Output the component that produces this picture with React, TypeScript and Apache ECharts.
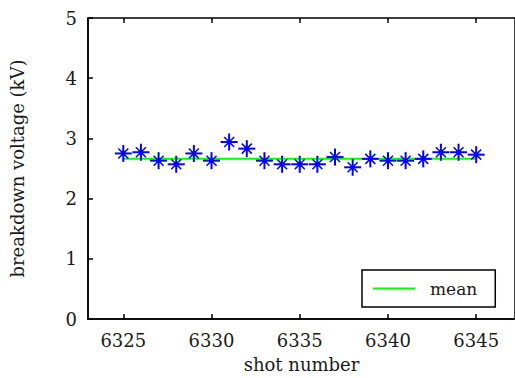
import React, { useEffect, useRef } from "react";
import * as echarts from "echarts";

const shotNumbers = [6325, 6326, 6327, 6328, 6329, 6330, 6331, 6332, 6333, 6334, 6335, 6336, 6337, 6338, 6339, 6340, 6341, 6342, 6343, 6344, 6345];
const voltages = [2.75, 2.77, 2.63, 2.57, 2.75, 2.63, 2.94, 2.83, 2.63, 2.57, 2.57, 2.57, 2.69, 2.52, 2.66, 2.63, 2.63, 2.66, 2.77, 2.77, 2.73];
const meanValue = 2.66;
const meanRange = [6325, 6345];
const xTicks = [6325, 6330, 6335, 6340, 6345];

const FONT = "DejaVu Serif";
const TEXT = "#1a1a1a";

export default function App() {
  const ref = useRef<HTMLDivElement>(null);
  useEffect(() => {
    if (!ref.current) return;
    const chart = echarts.init(ref.current, null, { renderer: "svg" });
    const blue = "#0000ff";
    chart.setOption({
      animation: false,
      backgroundColor: "#ffffff",
      grid: {
        left: 86,
        top: 18,
        width: 433,
        bottom: 56,
        show: true,
        borderColor: "#000",
        borderWidth: 1.5,
      },
      legend: {
        data: [{ name: "mean", icon: "rect" }],
        left: 362,
        top: 270,
        width: 140,
        orient: "horizontal",
        padding: [10, 18, 10, 11],
        backgroundColor: "#fff",
        borderColor: "#000",
        borderWidth: 1.5,
        borderRadius: 0,
        itemWidth: 42,
        itemHeight: 2,
        textStyle: { fontFamily: FONT, fontSize: 17, color: TEXT, padding: [0, 0, 0, 10] },
      },
      xAxis: [
        {
          type: "value",
          min: 6323,
          max: 6347.2,
          position: "bottom",
          splitLine: { show: false },
          axisLine: { show: true, lineStyle: { color: "#000", width: 1.5 } },
          axisTick: { inside: true, length: 5, customValues: xTicks, lineStyle: { color: "#000", width: 1.5 } },
          axisLabel: {
            customValues: xTicks,
            formatter: (v: number) => String(Math.round(v)),
            fontFamily: FONT,
            fontSize: 18,
            color: TEXT,
            margin: 12,
          },
          name: "shot number",
          nameLocation: "middle",
          nameGap: 36,
          nameTextStyle: { fontFamily: FONT, fontSize: 18, color: TEXT },
        },
        {
          type: "value",
          min: 6323,
          max: 6347.2,
          position: "top",
          splitLine: { show: false },
          axisLine: { show: false },
          axisTick: { inside: true, length: 5, customValues: xTicks, lineStyle: { color: "#000", width: 1.5 } },
          axisLabel: { show: false },
        },
      ],
      yAxis: {
        type: "value",
        min: 0,
        max: 5,
        interval: 1,
        splitLine: { show: false },
        axisLine: { show: true, lineStyle: { color: "#000", width: 1.5 } },
        axisTick: { show: true, inside: true, length: 5, lineStyle: { color: "#000", width: 1.5 } },
        axisLabel: { fontFamily: FONT, fontSize: 18, color: TEXT, margin: 11 },
        name: "breakdown voltage (kV)",
        nameLocation: "middle",
        nameRotate: 90,
        nameGap: 62,
        nameTextStyle: { fontFamily: FONT, fontSize: 18, color: TEXT },
      },
      series: [
        {
          name: "mean",
          type: "line",
          symbol: "none",
          data: meanRange.map((x) => [x, meanValue]),
          lineStyle: { color: "#00ff00", width: 2 },
          itemStyle: { color: "#00ff00" },
          z: 1,
        },
        {
          name: "voltage",
          type: "custom",
          data: shotNumbers.map((x, i) => [x, voltages[i]]),
          z: 3,
          renderItem: (params: any, api: any) => {
            const [cx, cy] = api.coord([api.value(0), api.value(1)]);
            const st = { stroke: blue, lineWidth: 2 };
            const sd = { stroke: blue, lineWidth: 1.5 };
            return {
              type: "group",
              children: [
                { type: "line", shape: { x1: cx - 8.5, y1: cy, x2: cx + 8.5, y2: cy }, style: st },
                { type: "line", shape: { x1: cx, y1: cy - 8.5, x2: cx, y2: cy + 8.5 }, style: st },
                { type: "line", shape: { x1: cx - 5, y1: cy - 5, x2: cx + 5, y2: cy + 5 }, style: sd },
                { type: "line", shape: { x1: cx - 5, y1: cy + 5, x2: cx + 5, y2: cy - 5 }, style: sd },
                { type: "circle", shape: { cx, cy, r: 2.5 }, style: { fill: blue } },
              ],
            };
          },
        },
      ],
    });
    return () => chart.dispose();
  }, []);
  return <div ref={ref} style={{ width: 515, height: 378, position: "absolute", left: 0, top: 0 }} />;
}
